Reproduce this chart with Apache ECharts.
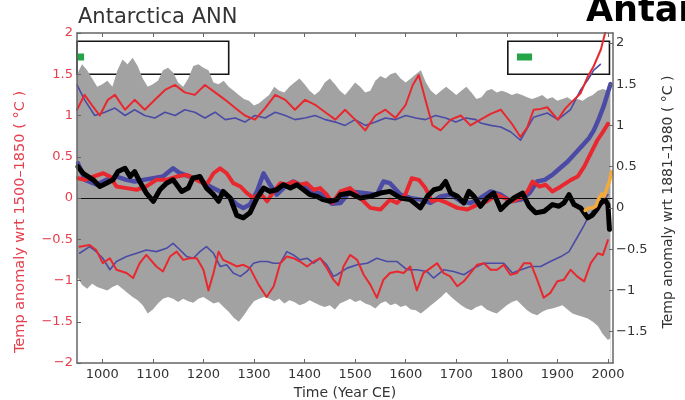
<!DOCTYPE html>
<html>
<head>
<meta charset="utf-8">
<script src="https://cdn.jsdelivr.net/npm/echarts@6/dist/echarts.min.js"></script>
<style>
  html, body { margin: 0; padding: 0; background: #fff; }
  #chart { width: 685px; height: 400px; }
</style>
</head>
<body>
<div id="chart"></div>
<script>
// ---- Data: temperature anomalies (°C) by year CE ----
const xTicks = [1000, 1100, 1200, 1300, 1400, 1500, 1600, 1700, 1800, 1900, 2000];
const rightTicks = [-1.5, -1, -0.5, 0, 0.5, 1, 1.5, 2];

// Grey uncertainty envelope (upper / lower bounds)
const bandYears = [950,960,970,980,990,1000,1010,1020,1030,1040,1050,1060,1070,1080,1090,1100,1110,1120,1130,1140,1150,1160,1170,1180,1190,1200,1210,1220,1230,1240,1250,1260,1270,1280,1290,1300,1310,1320,1330,1340,1350,1360,1370,1380,1390,1400,1410,1420,1430,1440,1450,1460,1470,1480,1490,1500,1510,1520,1530,1540,1550,1560,1570,1580,1590,1600,1610,1620,1630,1640,1650,1660,1670,1680,1690,1700,1710,1720,1730,1740,1750,1760,1770,1780,1790,1800,1810,1820,1830,1840,1850,1860,1870,1880,1890,1900,1910,1920,1930,1940,1950,1960,1970,1980,1990,2000,2005];
const bandUpper = [1.5,1.62,1.55,1.45,1.35,1.38,1.42,1.35,1.55,1.68,1.62,1.7,1.6,1.45,1.35,1.38,1.42,1.55,1.58,1.52,1.4,1.35,1.45,1.6,1.62,1.58,1.55,1.4,1.38,1.42,1.35,1.3,1.25,1.2,1.18,1.12,1.15,1.2,1.25,1.35,1.3,1.28,1.35,1.4,1.45,1.38,1.3,1.25,1.3,1.4,1.45,1.38,1.3,1.25,1.32,1.4,1.35,1.28,1.3,1.42,1.48,1.45,1.5,1.52,1.45,1.4,1.45,1.5,1.55,1.4,1.3,1.25,1.3,1.35,1.3,1.25,1.3,1.35,1.28,1.2,1.22,1.3,1.32,1.28,1.3,1.28,1.25,1.27,1.25,1.22,1.2,1.22,1.25,1.2,1.22,1.18,1.2,1.22,1.18,1.2,1.18,1.22,1.25,1.3,1.32,1.3,1.28];
const bandLower = [-0.95,-1.05,-1.1,-1.04,-1.08,-1.1,-1.12,-1.08,-1.05,-1.1,-1.15,-1.2,-1.24,-1.3,-1.4,-1.35,-1.28,-1.22,-1.2,-1.22,-1.26,-1.22,-1.25,-1.27,-1.22,-1.2,-1.24,-1.28,-1.26,-1.32,-1.38,-1.45,-1.5,-1.42,-1.33,-1.25,-1.22,-1.2,-1.22,-1.25,-1.22,-1.28,-1.24,-1.26,-1.3,-1.28,-1.24,-1.27,-1.3,-1.32,-1.3,-1.35,-1.28,-1.25,-1.22,-1.26,-1.24,-1.28,-1.3,-1.34,-1.28,-1.25,-1.3,-1.28,-1.32,-1.3,-1.35,-1.36,-1.4,-1.35,-1.3,-1.25,-1.2,-1.14,-1.2,-1.25,-1.3,-1.34,-1.36,-1.32,-1.3,-1.35,-1.38,-1.4,-1.35,-1.3,-1.26,-1.24,-1.3,-1.36,-1.4,-1.42,-1.38,-1.35,-1.34,-1.32,-1.3,-1.35,-1.4,-1.42,-1.44,-1.46,-1.5,-1.55,-1.65,-1.72,-1.7];

// Upper panel pair (offset +1)
const topRed = [[950,1.07],[965,1.25],[979,1.13],[995,1.0],[1011,1.19],[1025,1.25],[1045,1.07],[1064,1.19],[1084,1.07],[1104,1.19],[1124,1.31],[1144,1.37],[1163,1.28],[1183,1.25],[1203,1.37],[1223,1.28],[1243,1.19],[1263,1.09],[1282,1.0],[1302,0.95],[1322,1.09],[1342,1.25],[1362,1.19],[1381,1.07],[1401,1.19],[1421,1.13],[1441,1.04],[1461,0.95],[1480,1.07],[1500,0.95],[1520,0.82],[1540,1.0],[1560,1.07],[1580,0.97],[1600,1.13],[1614,1.37],[1626,1.49],[1639,1.19],[1653,0.88],[1669,0.82],[1689,0.95],[1709,1.0],[1728,0.88],[1748,0.95],[1768,1.02],[1788,1.07],[1810,0.9],[1827,0.74],[1840,0.85],[1853,1.07],[1867,1.08],[1880,1.1],[1901,0.95],[1915,1.08],[1926,1.15],[1946,1.27],[1960,1.47],[1972,1.6],[1986,1.8],[1996,2.04],[2005,2.25]];
const topBlue = [[950,1.37],[965,1.19],[985,1.0],[1005,1.04],[1025,1.09],[1045,1.0],[1064,1.07],[1084,1.0],[1104,0.97],[1124,1.04],[1144,1.0],[1163,1.07],[1183,1.04],[1203,0.97],[1223,1.04],[1243,0.95],[1263,0.97],[1282,0.92],[1302,1.0],[1322,0.97],[1342,1.04],[1362,1.0],[1381,0.95],[1401,0.97],[1421,1.0],[1441,0.95],[1461,0.92],[1480,0.88],[1500,0.95],[1520,0.88],[1540,0.92],[1560,0.97],[1580,0.95],[1600,1.0],[1620,0.97],[1639,0.95],[1659,1.0],[1679,0.97],[1699,0.92],[1719,0.97],[1739,0.95],[1748,0.91],[1768,0.88],[1788,0.86],[1808,0.8],[1827,0.7],[1853,0.98],[1880,1.03],[1901,0.95],[1926,1.07],[1946,1.31],[1960,1.43],[1972,1.55],[1985,1.62]];

// Central reconstructions
const midRed = [[952,0.24],[966,0.22],[982,0.26],[1002,0.3],[1015,0.26],[1028,0.14],[1048,0.12],[1068,0.1],[1087,0.14],[1107,0.22],[1127,0.22],[1147,0.26],[1167,0.28],[1186,0.22],[1206,0.16],[1220,0.3],[1233,0.36],[1246,0.3],[1259,0.18],[1273,0.14],[1286,0.06],[1299,0.0],[1312,0.06],[1326,-0.04],[1339,0.08],[1352,0.18],[1365,0.16],[1378,0.2],[1391,0.16],[1404,0.18],[1418,0.1],[1431,0.12],[1444,0.04],[1455,-0.06],[1471,0.08],[1490,0.12],[1510,0.0],[1530,-0.12],[1550,-0.14],[1569,-0.02],[1583,-0.06],[1599,0.04],[1612,0.24],[1626,0.22],[1639,0.12],[1652,-0.04],[1665,-0.02],[1682,-0.06],[1702,-0.12],[1722,-0.14],[1742,-0.08],[1761,-0.04],[1781,0.04],[1795,0.0],[1811,-0.04],[1828,0.0],[1841,0.08],[1851,0.2],[1864,0.14],[1877,0.16],[1890,0.08],[1907,0.14],[1927,0.22],[1940,0.26],[1953,0.38],[1966,0.54],[1979,0.7],[1990,0.8],[2000,0.9]];
const midBlue = [[952,0.42],[966,0.22],[989,0.16],[1008,0.22],[1028,0.26],[1048,0.22],[1064,0.2],[1081,0.22],[1101,0.24],[1120,0.26],[1140,0.36],[1154,0.3],[1173,0.26],[1193,0.22],[1213,0.14],[1233,0.08],[1253,0.0],[1266,-0.08],[1279,-0.12],[1292,-0.08],[1306,0.08],[1319,0.3],[1332,0.16],[1345,0.04],[1365,0.16],[1378,0.2],[1398,0.14],[1418,0.08],[1437,0.04],[1454,-0.07],[1471,-0.06],[1490,0.08],[1517,0.06],[1543,0.04],[1556,0.2],[1569,0.18],[1590,0.04],[1609,0.0],[1629,-0.02],[1649,-0.06],[1669,0.02],[1689,0.04],[1709,-0.04],[1728,-0.06],[1748,0.0],[1768,0.08],[1788,0.04],[1808,-0.04],[1828,-0.02],[1845,0.06],[1860,0.2],[1875,0.22],[1890,0.28],[1905,0.36],[1920,0.44],[1935,0.54],[1950,0.64],[1962,0.72],[1972,0.82],[1982,0.96],[1992,1.12],[2000,1.28],[2005,1.38]];
const midBlack = [[952,0.38],[962,0.3],[972,0.26],[982,0.22],[995,0.14],[1008,0.18],[1021,0.22],[1031,0.32],[1045,0.36],[1055,0.26],[1064,0.32],[1074,0.2],[1087,0.06],[1101,-0.04],[1114,0.1],[1127,0.18],[1140,0.22],[1157,0.08],[1170,0.12],[1179,0.24],[1193,0.26],[1206,0.12],[1220,0.04],[1230,-0.04],[1239,0.08],[1253,0.0],[1266,-0.21],[1279,-0.24],[1292,-0.18],[1306,0.0],[1319,0.12],[1332,0.08],[1345,0.1],[1358,0.16],[1372,0.12],[1385,0.16],[1398,0.1],[1411,0.04],[1424,0.02],[1437,-0.02],[1451,-0.04],[1464,-0.02],[1471,0.04],[1490,0.06],[1510,0.0],[1530,0.02],[1550,0.06],[1569,0.08],[1590,0.0],[1609,-0.02],[1629,-0.12],[1643,0.02],[1656,0.1],[1669,0.12],[1679,0.2],[1689,0.06],[1702,0.02],[1715,-0.06],[1725,0.08],[1735,0.02],[1748,-0.1],[1761,0.0],[1774,0.06],[1788,-0.14],[1801,-0.06],[1814,0.0],[1831,0.06],[1844,-0.1],[1857,-0.18],[1874,-0.16],[1890,-0.08],[1903,-0.1],[1913,-0.06],[1923,0.04],[1933,-0.08],[1946,-0.12],[1960,-0.24],[1969,-0.21],[1978,-0.14],[1986,-0.06],[1994,-0.02],[2000,-0.08],[2003,-0.38]];
const instrOrange = [[1955,-0.15],[1962,-0.12],[1970,-0.12],[1976,-0.1],[1982,0.0],[1988,0.05],[1993,0.02],[1998,0.12],[2003,0.2],[2007,0.32]];

// Lower panel pair (offset -1)
const lowRed = [[955,-0.59],[975,-0.57],[988,-0.63],[1001,-0.79],[1015,-0.73],[1028,-0.87],[1048,-0.91],[1061,-0.97],[1074,-0.79],[1087,-0.69],[1107,-0.83],[1120,-0.89],[1134,-0.71],[1147,-0.65],[1160,-0.75],[1173,-0.73],[1187,-0.73],[1200,-0.87],[1210,-1.12],[1220,-0.91],[1230,-0.65],[1239,-0.75],[1253,-0.79],[1266,-0.83],[1279,-0.81],[1292,-0.85],[1309,-1.05],[1325,-1.2],[1339,-1.07],[1352,-0.79],[1365,-0.71],[1378,-0.73],[1391,-0.77],[1405,-0.83],[1418,-0.77],[1431,-0.73],[1444,-0.85],[1457,-0.99],[1467,-1.06],[1477,-0.83],[1490,-0.69],[1504,-0.75],[1517,-0.93],[1530,-1.05],[1543,-1.21],[1556,-0.99],[1569,-0.91],[1583,-0.89],[1596,-0.91],[1609,-0.83],[1622,-1.12],[1635,-0.91],[1649,-0.85],[1662,-0.79],[1675,-0.91],[1688,-0.95],[1702,-1.07],[1715,-1.01],[1728,-0.91],[1741,-0.81],[1755,-0.79],[1768,-0.87],[1781,-0.87],[1794,-0.81],[1807,-0.93],[1820,-0.91],[1834,-0.79],[1847,-0.79],[1860,-0.99],[1873,-1.21],[1886,-1.15],[1900,-1.01],[1913,-0.99],[1926,-0.87],[1939,-0.95],[1953,-1.01],[1966,-0.79],[1980,-0.67],[1990,-0.69],[2000,-0.51]];
const lowBlue = [[955,-0.67],[975,-0.59],[988,-0.65],[1001,-0.73],[1015,-0.87],[1028,-0.77],[1048,-0.71],[1068,-0.67],[1087,-0.63],[1107,-0.65],[1127,-0.61],[1140,-0.55],[1154,-0.63],[1167,-0.71],[1180,-0.73],[1193,-0.65],[1206,-0.59],[1220,-0.67],[1233,-0.83],[1246,-0.81],[1259,-0.91],[1273,-0.95],[1286,-0.89],[1299,-0.79],[1312,-0.77],[1326,-0.77],[1339,-0.79],[1352,-0.79],[1365,-0.65],[1378,-0.69],[1391,-0.75],[1405,-0.73],[1418,-0.79],[1431,-0.73],[1444,-0.81],[1457,-0.95],[1464,-0.93],[1484,-0.85],[1504,-0.81],[1524,-0.79],[1543,-0.73],[1563,-0.77],[1583,-0.77],[1603,-0.87],[1622,-0.87],[1642,-0.89],[1655,-0.97],[1675,-0.87],[1695,-0.89],[1715,-0.93],[1735,-0.85],[1755,-0.79],[1775,-0.79],[1794,-0.79],[1811,-0.91],[1828,-0.87],[1847,-0.83],[1867,-0.83],[1886,-0.77],[1907,-0.71],[1923,-0.65],[1940,-0.47],[1953,-0.33],[1962,-0.22],[1972,-0.14],[1982,-0.08],[1992,-0.02],[2000,0.04]];

// Inset frames [x0, x1, y0, y1] and green markers [x0, x1, y]
const insetBoxes = [[950, 1250, 1.5, 1.9], [1802, 2003, 1.5, 1.9]];
const greenMarks = [[951, 964, 1.71], [1820, 1850, 1.71]];

// ---- Chart ----
const RED = '#e8282e', BLUE = '#4b4ba6', GREY = '#a2a2a2';
const FONT = '"DejaVu Sans", Arial, sans-serif';
const minusFmt = v => (v < 0 ? '\u2212' + Math.abs(v) : String(v));

function lineSeries(name, data, color, width, z) {
  return {
    name, type: 'line', data, z,
    xAxisIndex: 0, yAxisIndex: 0,
    showSymbol: false, symbol: 'none', smooth: false,
    lineStyle: { color, width, join: 'round', cap: 'round' },
    emphasis: { disabled: true }, silent: true, animation: false
  };
}

// envelope: grey fill under the upper bound, white fill under the lower bound
function envelopeSeries(name, values, color, z) {
  return {
    name, type: 'line', z, silent: true, animation: false,
    data: bandYears.map((y, i) => [y, values[i]]),
    showSymbol: false, symbol: 'none',
    lineStyle: { width: 0, opacity: 0 },
    areaStyle: { color, opacity: 1, origin: 'start' },
    emphasis: { disabled: true }
  };
}

const series = [
  envelopeSeries('bandUpper', bandUpper, GREY, 1),
  envelopeSeries('bandLower', bandLower, '#ffffff', 1.5),
  Object.assign(lineSeries('topBlue', topBlue, BLUE, 1.6, 2), {
    markLine: {
      silent: true, symbol: 'none', animation: false,
      label: { show: false },
      lineStyle: { color: '#111', width: 1, type: 'solid' },
      data: [{ yAxis: 0 }]
    }
  }),
  lineSeries('topRed', topRed, RED, 2, 2),
  lineSeries('lowBlue', lowBlue, BLUE, 1.6, 2),
  lineSeries('lowRed', lowRed, RED, 2, 2),
  lineSeries('midBlue', midBlue, BLUE, 4.5, 3),
  lineSeries('midRed', midRed, RED, 4, 3),
  lineSeries('midBlack', midBlack, '#000', 5, 4),
  lineSeries('instrOrange', instrOrange, '#f4aa3a', 3.5, 5)
];

greenMarks.forEach((g, i) => {
  const s = lineSeries('green' + i, [[g[0], g[2]], [g[1], g[2]]], '#25a548', 7, 6);
  s.lineStyle.cap = 'butt';
  series.push(s);
});

series.push({
  name: 'insets', type: 'line', data: [], z: 6, silent: true, animation: false,
  markArea: {
    silent: true, animation: false,
    itemStyle: { color: 'rgba(0,0,0,0)', borderColor: '#151515', borderWidth: 1.6 },
    label: { show: false },
    data: insetBoxes.map(b => [{ coord: [b[0], b[3]] }, { coord: [b[1], b[2]] }])
  }
});

const axisLine = { show: true, onZero: false, lineStyle: { color: '#666', width: 1.5 } };

const chart = echarts.init(document.getElementById('chart'), null, { renderer: 'canvas' });
chart.setOption({
  animation: false,
  backgroundColor: '#fff',
  grid: { left: 77, right: 72, top: 33, bottom: 37, containLabel: false, outerBoundsMode: 'none' },
  xAxis: [
    {
      type: 'value', min: 950, max: 2010, position: 'bottom', z: 10,
      axisLine,
      axisTick: { show: true, inside: true, length: 4, customValues: xTicks, lineStyle: { color: '#666' } },
      axisLabel: { show: true, customValues: xTicks, color: '#333', fontSize: 13, fontFamily: FONT, margin: 5, formatter: v => String(v) },
      splitLine: { show: false },
      name: 'Time (Year CE)', nameLocation: 'middle', nameGap: 21,
      nameTextStyle: { color: '#333', fontSize: 14, fontFamily: FONT }
    },
    {
      type: 'value', min: 950, max: 2010, position: 'top', z: 10,
      axisLine,
      axisTick: { show: true, inside: true, length: 4, customValues: xTicks, lineStyle: { color: '#666' } },
      axisLabel: { show: false }, splitLine: { show: false }
    }
  ],
  yAxis: [
    {
      type: 'value', min: -2, max: 2, interval: 0.5, position: 'left', z: 10,
      axisLine,
      axisTick: { show: true, inside: true, length: 4, lineStyle: { color: '#666' } },
      axisLabel: { color: '#e5404f', fontSize: 13, fontFamily: FONT, margin: 4, formatter: minusFmt },
      splitLine: { show: false }
    },
    {
      type: 'value', min: -1.88, max: 2.12, position: 'right', z: 10,
      axisLine,
      axisTick: { show: true, inside: true, length: 4, customValues: rightTicks, lineStyle: { color: '#666' } },
      axisLabel: { customValues: rightTicks, color: '#333', fontSize: 13, fontFamily: FONT, margin: 3, formatter: minusFmt },
      splitLine: { show: false }
    }
  ],
  graphic: [
    {
      type: 'text', left: 78, top: 7, silent: true,
      style: { text: 'Antarctica ANN', fill: '#333', font: '21px ' + FONT }
    },
    {
      type: 'text', left: 586, top: -6, silent: true,
      style: { text: 'Antarctica', fill: '#000', font: 'bold 35px "DejaVu Sans", Arial, sans-serif' }
    },
    {
      type: 'text', x: 20, y: 222, rotation: Math.PI / 2, silent: true,
      style: { text: 'Temp anomaly wrt 1500\u20131850 ( \u00b0C )', fill: '#e5404f', font: '14.5px ' + FONT, align: 'center', verticalAlign: 'middle' }
    },
    {
      type: 'text', x: 668, y: 202, rotation: Math.PI / 2, silent: true,
      style: { text: 'Temp anomaly wrt 1881\u20131980 ( \u00b0C )', fill: '#333', font: '14px ' + FONT, align: 'center', verticalAlign: 'middle' }
    }
  ],
  series
});
</script>
</body>
</html>
